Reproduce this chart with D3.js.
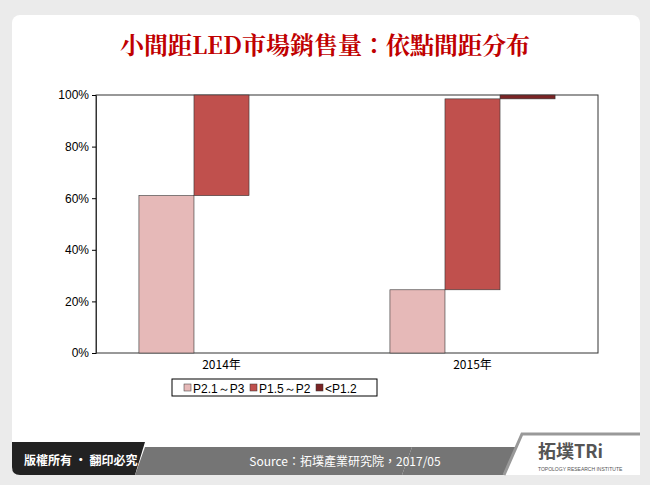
<!DOCTYPE html>
<html><head><meta charset="utf-8">
<script src="https://cdn.jsdelivr.net/npm/d3@7"></script>
<style>body{margin:0;background:#ebebeb}</style>
</head><body>
<script>
// data
var years = ["2014年", "2015年"]
var seriesNames = ["P2.1～P3", "P1.5～P2", "<P1.2"]
var colors = ["#e6b9b8", "#c0504d", "#7b2425"]
var share2014 = [61, 39, 0]
var share2015 = [24.5, 74, 1.5]
var yTicks = [0, 20, 40, 60, 80, 100]

var W = 650, H = 485
var svg = d3.select("body").append("svg").attr("width", W).attr("height", H)
  .style("font-family", "'Liberation Sans', Arial, sans-serif")

svg.append("rect").attr("x", 12).attr("y", 15).attr("width", 628).attr("height", 460)
  .attr("rx", 8).attr("fill", "#fff")

svg.append("text").attr("x", 325).attr("y", 54).attr("text-anchor", "middle")
  .attr("fill", "#c00000").attr("font-size", 24).attr("font-weight", "bold")
  .attr("font-family", "'Noto Serif CJK TC','Noto Sans CJK TC',serif")
  .text("小間距LED市場銷售量：依點間距分布")

var x0 = 96, x1 = 598, yTop = 95, yBot = 353
var y = d3.scaleLinear().domain([0, 100]).range([yBot, yTop])
var xg = d3.scaleBand().domain(years).range([x0, x1])

var g = svg.append("g")
g.append("rect").attr("x", x0).attr("y", yTop).attr("width", x1 - x0).attr("height", yBot - yTop)
  .attr("fill", "none").attr("stroke", "#333")

var yAxis = g.append("g").attr("transform", "translate(" + x0 + ",0)")
  .call(d3.axisLeft(y).tickValues(yTicks).tickFormat(d => d + "%").tickSize(4))
yAxis.select(".domain").attr("stroke", "#333")
yAxis.selectAll("text").attr("font-size", 12).attr("fill", "#000")
var xAxis = g.append("g").attr("transform", "translate(0," + yBot + ")")
  .call(d3.axisBottom(xg).tickSize(0).tickPadding(7))
xAxis.select(".domain").remove()
xAxis.selectAll("text").attr("font-size", 12).attr("fill", "#000")
  .attr("font-family", "'Noto Sans CJK TC',sans-serif")

// offset columns per series
var data = [share2014, share2015]
var sub = d3.scaleBand().domain(seriesNames).range([0, xg.bandwidth()]).paddingOuter(0.78)
data.forEach(function (vals, i) {
  var base = 0
  vals.forEach(function (v, k) {
    if (v > 0) {
      g.append("rect").attr("x", xg(years[i]) + sub(seriesNames[k]))
        .attr("y", y(base + v)).attr("width", sub.bandwidth())
        .attr("height", y(base) - y(base + v))
        .attr("fill", colors[k]).attr("stroke", "#333").attr("stroke-width", 0.6)
    }
    base += v
  })
})

// legend
var lg = svg.append("g").attr("transform", "translate(172,379)")
lg.append("rect").attr("width", 205).attr("height", 17).attr("fill", "#fff").attr("stroke", "#000")
var lx = [21, 87, 153]
seriesNames.forEach(function (s, k) {
  lg.append("rect").attr("x", lx[k] - 9).attr("y", 5).attr("width", 7).attr("height", 7)
    .attr("fill", colors[k]).attr("stroke", "#333").attr("stroke-width", 0.5)
  lg.append("text").attr("x", lx[k]).attr("y", 13.5).attr("font-size", 12)
    .text(s)
})

// footer
svg.append("path").attr("d", "M412,447 L640,447 L640,467 Q640,475 632,475 L402,475 Z").attr("fill", "#757575")
svg.append("path").attr("d", "M12,442 L145,442 L135,475 L20,475 Q12,475 12,467 Z").attr("fill", "#222")
svg.append("path").attr("d", "M145,447 L412,447 L402,475 L135,475 Z").attr("fill", "#757575")
svg.append("text").attr("x", 24).attr("y", 465).attr("fill", "#fff").attr("font-size", 12)
  .attr("font-weight", "bold").attr("font-family", "'Noto Sans CJK TC',sans-serif").text("版權所有 · 翻印必究")
svg.append("text").attr("x", 345).attr("y", 466).attr("fill", "#fff").attr("font-size", 12)
  .attr("text-anchor", "middle").attr("font-family", "'Noto Sans CJK TC',sans-serif")
  .text("Source：拓墣產業研究院，2017/05")
svg.append("path").attr("d", "M522,432 L640,432 L640,475 L504,475 Z").attr("fill", "#fff")
svg.append("path").attr("d", "M504,475 L522,434 L640,434").attr("fill", "none").attr("stroke", "#999").attr("stroke-width", 3)
svg.append("text").attr("x", 538).attr("y", 458).attr("font-size", 18).attr("font-weight", "bold")
  .attr("fill", "#555").attr("font-family", "'Noto Sans CJK TC',sans-serif").text("拓墣TRi")
svg.append("text").attr("x", 538).attr("y", 471).attr("font-size", 5).attr("fill", "#555")
  .text("TOPOLOGY RESEARCH INSTITUTE")
</script>
</body></html>
